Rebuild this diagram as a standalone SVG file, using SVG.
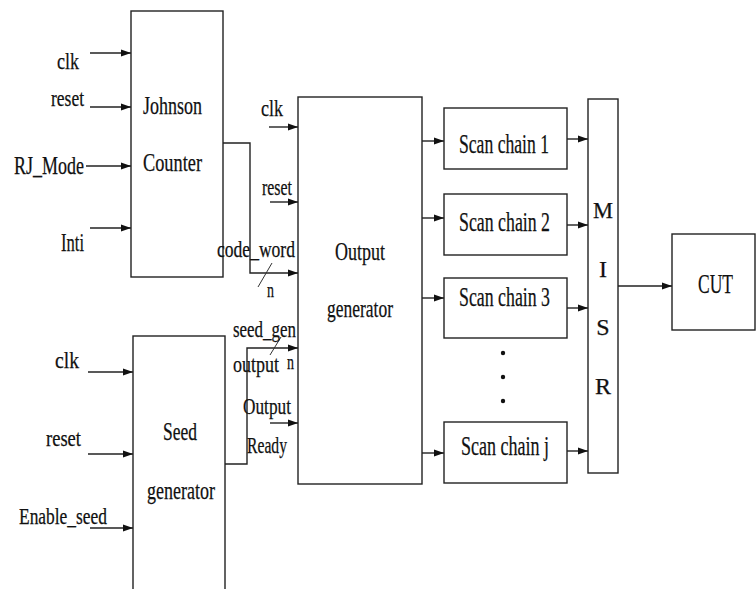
<svg xmlns="http://www.w3.org/2000/svg" width="756" height="589" viewBox="0 0 756 589">
<style>
.box{fill:#fff;stroke:#222;stroke-width:1.4}
.ln{fill:none;stroke:#222;stroke-width:1.4}
.ar{fill:none;stroke:#222;stroke-width:1.4;marker-end:url(#ah)}
.sl{fill:none;stroke:#333;stroke-width:1}
text{font-family:"Liberation Serif","Times New Roman",serif;fill:#111;stroke:#111;stroke-width:0.25;font-size:24px}
.big{font-size:26px}
.sc{font-size:28px}
</style>
<defs>
<marker id="ah" markerWidth="10" markerHeight="8" refX="10" refY="4" orient="auto" markerUnits="userSpaceOnUse"><path d="M0,0.5 L10,4 L0,7.5 z" fill="#111"/></marker>
</defs>
<rect width="756" height="589" fill="#fff"/>

<g id="connectors">
<line class="ar" x1="90" y1="53" x2="131" y2="53"/>
<line class="ar" x1="90" y1="107" x2="131" y2="107"/>
<line class="ar" x1="86" y1="166" x2="131" y2="166"/>
<line class="ar" x1="90" y1="228" x2="131" y2="228"/>
<polyline class="ar" points="223,143 250,143 250,273 298,273"/>
<line class="ar" x1="269" y1="127" x2="298" y2="127"/>
<line class="ar" x1="270" y1="202" x2="298" y2="202"/>
<polyline class="ar" points="225,464 247,464 247,348 298,348"/>
<line class="ar" x1="270" y1="423" x2="298" y2="423"/>
<line class="sl" x1="258" y1="287" x2="272" y2="263"/>
<line class="sl" x1="270" y1="355" x2="281" y2="337"/>
<line class="ar" x1="88" y1="372" x2="133" y2="372"/>
<line class="ar" x1="88" y1="454" x2="133" y2="454"/>
<line class="ar" x1="90" y1="528" x2="133" y2="528"/>
<line class="ar" x1="422" y1="141" x2="444" y2="141"/>
<line class="ar" x1="422" y1="218" x2="444" y2="218"/>
<line class="ar" x1="422" y1="298" x2="444" y2="298"/>
<line class="ar" x1="422" y1="453" x2="444" y2="453"/>
<line class="ar" x1="567" y1="139" x2="588" y2="139"/>
<line class="ar" x1="567" y1="225" x2="588" y2="225"/>
<line class="ar" x1="567" y1="308" x2="588" y2="308"/>
<line class="ar" x1="567" y1="451" x2="588" y2="451"/>
<line class="ar" x1="618" y1="286" x2="672" y2="286"/>
</g>

<g id="johnson-counter">
<rect class="box" x="131" y="11" width="92" height="266"/>
<text class="big" x="143" y="114" textLength="59" lengthAdjust="spacingAndGlyphs">Johnson</text>
<text class="big" x="143" y="171" textLength="59" lengthAdjust="spacingAndGlyphs">Counter</text>
</g>

<g id="seed-generator">
<rect class="box" x="133" y="336" width="92" height="270"/>
<text class="big" x="163" y="440" textLength="34" lengthAdjust="spacingAndGlyphs">Seed</text>
<text class="big" x="147" y="499" textLength="68" lengthAdjust="spacingAndGlyphs">generator</text>
</g>

<g id="output-generator">
<rect class="box" x="298" y="97" width="124" height="387"/>
<text class="big" x="335" y="260" textLength="50" lengthAdjust="spacingAndGlyphs">Output</text>
<text class="big" x="327" y="317" textLength="66" lengthAdjust="spacingAndGlyphs">generator</text>
</g>

<g id="scan-chain-1">
<rect class="box" x="444" y="108" width="123" height="61"/>
<text class="sc" x="459" y="153" textLength="90" lengthAdjust="spacingAndGlyphs">Scan chain 1</text>
</g>
<g id="scan-chain-2">
<rect class="box" x="444" y="194" width="123" height="61"/>
<text class="sc" x="459" y="231" textLength="91" lengthAdjust="spacingAndGlyphs">Scan chain 2</text>
</g>
<g id="scan-chain-3">
<rect class="box" x="444" y="278" width="123" height="60"/>
<text class="sc" x="459" y="306" textLength="91" lengthAdjust="spacingAndGlyphs">Scan chain 3</text>
</g>
<g id="dots">
<circle cx="503" cy="353" r="2.2" fill="#111"/>
<circle cx="503" cy="377" r="2.2" fill="#111"/>
<circle cx="503" cy="401" r="2.2" fill="#111"/>
</g>
<g id="scan-chain-j">
<rect class="box" x="444" y="422" width="123" height="61"/>
<text class="sc" x="461" y="455" textLength="88" lengthAdjust="spacingAndGlyphs">Scan chain j</text>
</g>

<g id="misr">
<rect class="box" x="588" y="99" width="30" height="374"/>
<text x="603" y="218" text-anchor="middle" textLength="20" lengthAdjust="spacingAndGlyphs">M</text>
<text x="603" y="277" text-anchor="middle">I</text>
<text x="603" y="335" text-anchor="middle">S</text>
<text x="603" y="394" text-anchor="middle">R</text>
</g>

<g id="cut">
<rect class="box" x="672" y="234" width="83" height="96"/>
<text class="sc" x="698" y="293" textLength="35" lengthAdjust="spacingAndGlyphs">CUT</text>
</g>

<g id="labels">
<text x="57" y="69" textLength="22" lengthAdjust="spacingAndGlyphs">clk</text>
<text x="51" y="106" textLength="33" lengthAdjust="spacingAndGlyphs">reset</text>
<text x="14" y="174" textLength="70" lengthAdjust="spacingAndGlyphs" style="font-size:25px">RJ_Mode</text>
<text x="61" y="251" textLength="23" lengthAdjust="spacingAndGlyphs" style="font-size:25px">Inti</text>
<text x="261" y="116" textLength="22" lengthAdjust="spacingAndGlyphs">clk</text>
<text x="262" y="195" textLength="30" lengthAdjust="spacingAndGlyphs">reset</text>
<text x="217" y="257" textLength="78" lengthAdjust="spacingAndGlyphs">code_word</text>
<text x="267" y="297" textLength="7" lengthAdjust="spacingAndGlyphs" style="font-size:22px">n</text>
<text x="233" y="337" textLength="63" lengthAdjust="spacingAndGlyphs">seed_gen</text>
<text x="287" y="369" textLength="7" lengthAdjust="spacingAndGlyphs" style="font-size:20px">n</text>
<text x="233" y="372" textLength="46" lengthAdjust="spacingAndGlyphs">output</text>
<text x="243" y="414" textLength="48" lengthAdjust="spacingAndGlyphs">Output</text>
<text x="247" y="453" textLength="40" lengthAdjust="spacingAndGlyphs">Ready</text>
<text x="55" y="368" textLength="24" lengthAdjust="spacingAndGlyphs">clk</text>
<text x="46" y="446" textLength="35" lengthAdjust="spacingAndGlyphs">reset</text>
<text x="19" y="524" textLength="88" lengthAdjust="spacingAndGlyphs">Enable_seed</text>
</g>
</svg>
